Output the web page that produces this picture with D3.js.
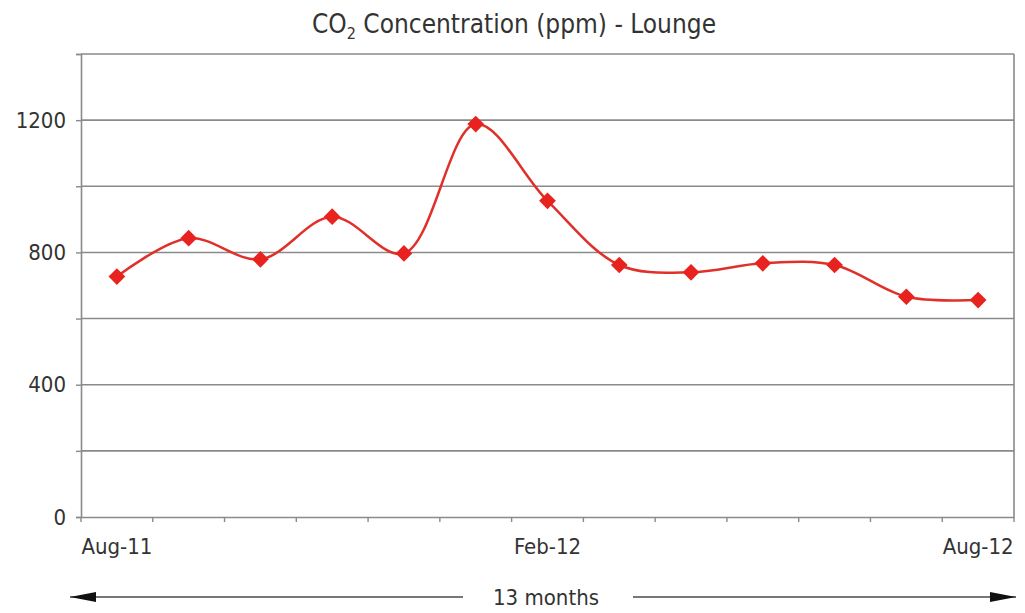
<!DOCTYPE html>
<html><head><meta charset="utf-8">
<script src="https://cdn.jsdelivr.net/npm/d3@7"></script>
<style>body{margin:0;background:#fff}text{font-family:"DejaVu Sans Condensed",Roboto,sans-serif;fill:#333}</style>
</head><body><svg id="c" width="1025" height="613"></svg>
<script>
const months = ["Aug-11","Sep-11","Oct-11","Nov-11","Dec-11","Jan-12","Feb-12","Mar-12","Apr-12","May-12","Jun-12","Jul-12","Aug-12"];
const shownLabels = ["Aug-11","Feb-12","Aug-12"];
const co2 = [727,843,779,908,797,1188,956,762,740,767,762,666,656];
const yTicks = [0,400,800,1200];
const yGrid = [200,400,600,800,1000,1200,1400];

const svg = d3.select("#c");
const L=81,R=1014,T=54,B=517;
const FONT="'DejaVu Sans Condensed',sans-serif";
const x = d3.scaleBand().domain(months).range([L,R]);
const y = d3.scaleLinear().domain([0,1400]).range([B,T]);

svg.append("g").selectAll("line").data(yGrid).join("line")
 .attr("x1",L).attr("x2",R).attr("y1",d=>y(d)).attr("y2",d=>y(d))
 .attr("stroke","#8a8a8a").attr("stroke-width",1.6);

// y axis
const ya = svg.append("g").attr("transform",`translate(${L},0)`)
 .call(d3.axisLeft(y).tickValues(yGrid.concat([0])).tickSize(5).tickFormat(d=>yTicks.includes(d)?d:""));
ya.select(".domain").attr("stroke","#8a8a8a").attr("stroke-width",1.6);
ya.selectAll(".tick line").attr("stroke","#8a8a8a").attr("stroke-width",1.4);
ya.selectAll("text").attr("font-size",22).attr("fill","#333").attr("x",-15).attr("font-family",FONT);

// x axis
const xa = svg.append("g").attr("transform",`translate(0,${B})`)
 .call(d3.axisBottom(x).tickSize(0).tickFormat(d=>shownLabels.includes(d)?d:""));
xa.select(".domain").attr("stroke","#8a8a8a").attr("stroke-width",1.6);
xa.selectAll("text").attr("font-size",22).attr("fill","#333").attr("y",21).attr("dy","0.71em").attr("font-family",FONT);
const bounds = months.map(m=>x(m)).concat([R]);
svg.append("g").selectAll("line").data(bounds).join("line")
 .attr("x1",d=>d).attr("x2",d=>d).attr("y1",B).attr("y2",B+5)
 .attr("stroke","#8a8a8a").attr("stroke-width",1.4);
// right border
svg.append("line").attr("x1",R).attr("x2",R).attr("y1",T).attr("y2",B).attr("stroke","#8a8a8a").attr("stroke-width",1.6);

const cx = d=>x(d)+x.bandwidth()/2;
const line = d3.line().x((d,i)=>cx(months[i])).y(d=>y(d)).curve(d3.curveCatmullRom.alpha(0.5));
svg.append("path").datum(co2).attr("d",line).attr("fill","none").attr("stroke","#e0302a").attr("stroke-width",2.5);
svg.append("g").selectAll("path").data(co2).join("path")
 .attr("d",d3.symbol().type(d3.symbolSquare).size(140))
 .attr("transform",(d,i)=>`translate(${cx(months[i])},${y(d)}) rotate(45)`)
 .attr("fill","#e8231f");

// title
const t = svg.append("text").attr("x",514).attr("y",33).attr("text-anchor","middle").attr("font-size",26).attr("fill","#222");
t.append("tspan").text("CO");
t.append("tspan").text("2").attr("font-size",16).attr("dy",6);
t.append("tspan").text(" Concentration (ppm) - Lounge").attr("dy",-6);

// bottom arrow
const defs = svg.append("defs");
defs.append("marker").attr("id","ah").attr("viewBox","0 0 26 10").attr("refX",26).attr("refY",5)
 .attr("markerWidth",26).attr("markerHeight",10).attr("markerUnits","userSpaceOnUse").attr("orient","auto")
 .append("path").attr("d","M0,0L26,5L0,10Z").attr("fill","#111");
svg.append("line").attr("x1",463).attr("x2",70).attr("y1",597).attr("y2",597).attr("stroke","#777").attr("stroke-width",2).attr("marker-end","url(#ah)");
svg.append("line").attr("x1",633).attr("x2",1016).attr("y1",597).attr("y2",597).attr("stroke","#777").attr("stroke-width",2).attr("marker-end","url(#ah)");
svg.append("text").attr("x",546).attr("y",605).attr("text-anchor","middle").attr("font-size",22).attr("fill","#333").attr("font-family",FONT).text("13 months");
</script></body></html>
